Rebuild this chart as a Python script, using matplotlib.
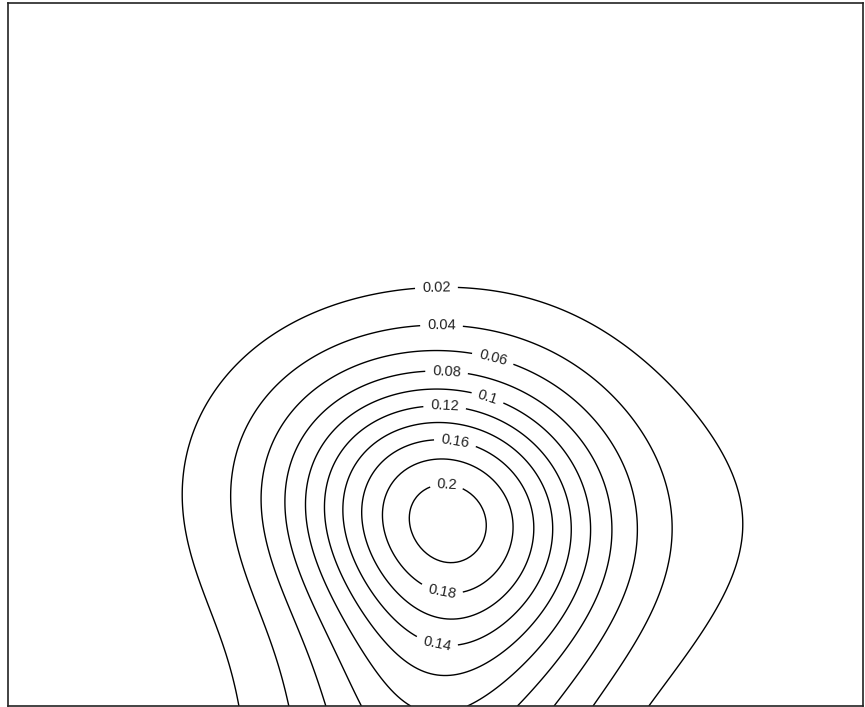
import numpy as np
import matplotlib
matplotlib.use("Agg")
import matplotlib.pyplot as plt

# Density surface: mixture of three bivariate normal bumps (amplitude, centre, spreads, correlation)
amplitudes = [0.0181, 0.1437, 0.0843]
centres_x = [5.649, 4.340, 4.408]
centres_y = [1.841, 2.054, 0.314]
spreads_x = [3.000, 1.119, 1.087]
spreads_y = [1.328, 0.960, 1.706]
correlations = [0.022, -0.119, 0.290]

levels = [0.02, 0.04, 0.06, 0.08, 0.10, 0.12, 0.14, 0.16, 0.18, 0.20]
level_labels = ["0.02", "0.04", "0.06", "0.08", "0.1", "0.12", "0.14", "0.16", "0.18", "0.2"]

# where each level's label sits (data coordinates)
label_pos = {0.02: (4.37, 4.16), 0.04: (4.42, 3.79), 0.06: (4.93, 3.46), 0.08: (4.47, 3.32),
             0.10: (4.88, 3.08), 0.12: (4.45, 2.96), 0.14: (4.37, 0.61), 0.16: (4.55, 2.60),
             0.18: (4.42, 1.13), 0.20: (4.47, 2.18)}

x_range = (0.08, 8.64)
y_range = (0.0, 7.03)

xs = np.linspace(x_range[0], x_range[1], 260)
ys = np.linspace(y_range[0], y_range[1], 240)
XX, YY = np.meshgrid(xs, ys)
Z = np.zeros_like(XX)
for a, mx, my, sx, sy, r in zip(amplitudes, centres_x, centres_y, spreads_x, spreads_y, correlations):
    dx = (XX - mx) / sx
    dy = (YY - my) / sy
    Z += a * np.exp(-0.5 * (dx * dx + dy * dy - 2 * r * dx * dy) / (1 - r * r))

fig = plt.figure(figsize=(8.65, 7.07), dpi=100)
ax = fig.add_axes([8 / 865, 1 / 707, 855 / 865, 703 / 707])

for lv, txt in zip(levels, level_labels):
    cs = ax.contour(XX, YY, Z, levels=[lv], colors="black", linewidths=1.0)
    ax.clabel(cs, fmt={lv: txt}, manual=[label_pos[lv]], inline=True, inline_spacing=5,
              fontsize=10.5, colors="#222222")
for t in ax.texts:
    t.set_family(["Liberation Sans", "DejaVu Sans"])

ax.set_xlim(*x_range)
ax.set_ylim(*y_range)
ax.set_xticks([])
ax.set_yticks([])
for s in ax.spines.values():
    s.set_color("#222222")
    s.set_linewidth(1.2)

fig.savefig("out.png", dpi=100)
